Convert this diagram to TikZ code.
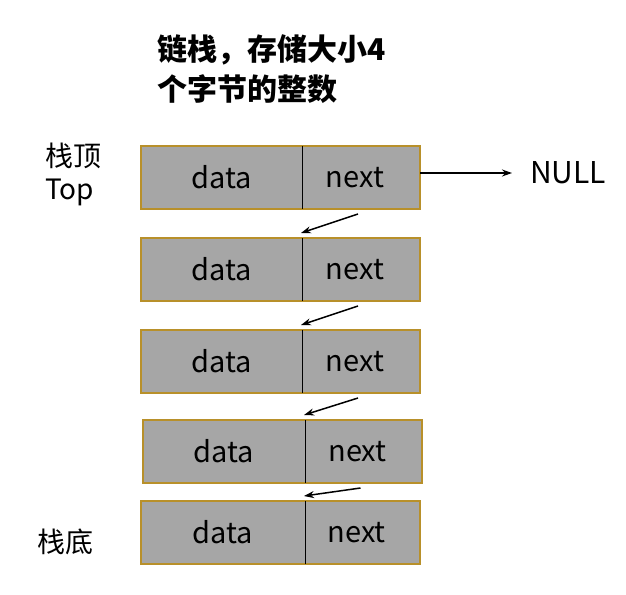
\documentclass[tikz,border=0pt]{standalone}
\usepackage{fontspec}
\setmainfont{Noto Sans CJK SC}
\usetikzlibrary{positioning,arrows.meta,calc}
\definecolor{cellgray}{HTML}{A6A6A6}
\definecolor{cellgold}{HTML}{B8902A}
\tikzset{
  cell/.style={fill=cellgray, minimum height=63, inner sep=0, outer sep=0},
  link/.style={-{Stealth[length=10pt,width=7pt]}, line width=1.5pt}
}
\begin{document}
\begin{tikzpicture}[x=1pt, y=-1pt, font=\fontsize{29}{34}\selectfont]
    \useasboundingbox (0,0) rectangle (626,594);
    % Title
    \node[anchor=north west, align=left, inner sep=0, font=\fontsize{30}{40}\selectfont\bfseries] (title) at (157,34) {链栈，存储大小4\\个字节的整数};

    % Stack cells
    \foreach \i/\x/\y/\w in {1/141/177.5/161, 2/141/269.5/161, 3/141/361.5/161, 4/143/451.5/162, 5/141/532.5/164} {
        \node[cell, minimum width=\w, anchor=west] (d\i) at (\x,\y) {data};
        \node[cell, minimum width=279-\w, right=0pt of d\i] (n\i) {next\kern12pt};
        \draw[cellgold, line width=1.8pt] (d\i.north west) rectangle (n\i.south east);
        \draw[line width=0.9pt] (d\i.north east) -- (d\i.south east);
    }

    % Labels
    \node[anchor=west, align=left, inner sep=0, font=\fontsize{28}{33}\selectfont] (top) at (45,174) {栈顶\\Top};
    \node[anchor=west, inner sep=0, font=\fontsize{28}{33}\selectfont] (bottom) at (37,542) {栈底};
    \node[anchor=west, inner sep=0, font=\fontsize{30}{34}\selectfont] (null) at (530,173) {NULL};

    % Links
    \draw[link, shorten >=18pt] (n1.east |- null.west) -- (null.west);
    \foreach \i/\j in {1/2, 2/3, 3/4, 4/5} {
        \draw[link] ($(n\i.south)+(-3,5)$) -- ($(d\j.north east)+(-1,-5)$);
    }
\end{tikzpicture}
\end{document}
